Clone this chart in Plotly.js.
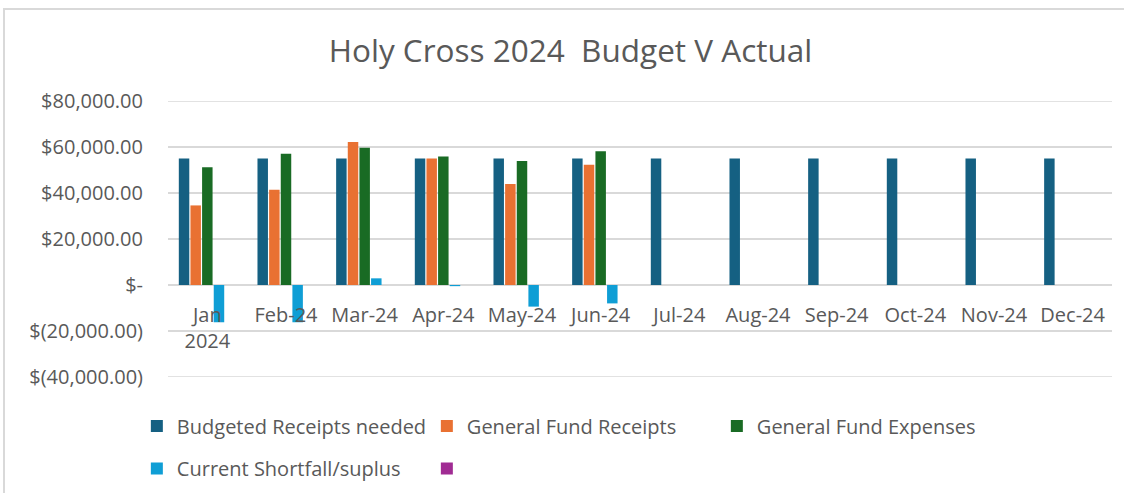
<!DOCTYPE html>
<html>
<head>
<meta charset="utf-8">
<script src="https://cdn.plot.ly/plotly-3.0.1.min.js"></script>
<style>
  html, body { margin: 0; padding: 0; background: #ffffff; }
  #wrap { position: relative; width: 1124px; height: 493px; overflow: hidden; }
  #frame { position: absolute; left: 3px; top: 8px; width: 1200px; height: 600px;
           border-top: 2px solid #d9d9d9; border-left: 2px solid #d9d9d9; pointer-events: none; z-index: 5; }
  #chart { width: 1124px; height: 493px; }
</style>
</head>
<body>
<div id="wrap">
  <div id="chart"></div>
  <div id="frame"></div>
</div>
<script>
const months = ["Jan 2024", "Feb-24", "Mar-24", "Apr-24", "May-24", "Jun-24", "Jul-24", "Aug-24", "Sep-24", "Oct-24", "Nov-24", "Dec-24"];
const monthLabels = ["Jan<br>2024", "Feb-24", "Mar-24", "Apr-24", "May-24", "Jun-24", "Jul-24", "Aug-24", "Sep-24", "Oct-24", "Nov-24", "Dec-24"];
const budgetedReceipts = [55000, 55000, 55000, 55000, 55000, 55000, 55000, 55000, 55000, 55000, 55000, 55000];
const generalFundReceipts = [34600, 41400, 62200, 55000, 43900, 52300, null, null, null, null, null, null];
const generalFundExpenses = [51200, 57100, 59700, 55900, 53900, 58100, null, null, null, null, null, null];
const shortfallSurplus = [-16200, -16200, 2900, -500, -9400, -8000, null, null, null, null, null, null];
const emptySeries = [null, null, null, null, null, null, null, null, null, null, null, null];
const seriesNames = ["Budgeted Receipts needed", "General Fund Receipts", "General Fund Expenses", "Current Shortfall/suplus", " "];
const yTickVals = [-40000, -20000, 0, 20000, 40000, 60000, 80000];
const yTickText = ["$(40,000.00)", "$(20,000.00)", "$-", "$20,000.00", "$40,000.00", "$60,000.00", "$80,000.00"];
const yMin = -40000;
const yMax = 80000;

const colors = ["#156082", "#E97132", "#196B24", "#0F9ED5", "#A02B93"];
const seriesData = [budgetedReceipts, generalFundReceipts, generalFundExpenses, shortfallSurplus, emptySeries];
const legendOf = ["legend", "legend", "legend", "legend2", "legend2"];

const traces = seriesData.map((vals, i) => ({
  type: "bar",
  x: months,
  y: vals,
  name: seriesNames[i],
  legend: legendOf[i],
  marker: { color: colors[i] },
  hoverinfo: "x+y+name"
}));

const legendCommon = {
  orientation: "h",
  x: -0.033, xanchor: "left",
  yanchor: "top",
  entrywidth: 245,
  entrywidthmode: "pixels",
  font: { family: "Open Sans, sans-serif", size: 20, color: "#595959" },
  itemwidth: 30,
  bgcolor: "rgba(0,0,0,0)"
};

// Edge gridlines (Plotly hides gridlines exactly at the range ends)
const edgeGrid = [yMin, yMax].map(v => ({
  type: "line", xref: "paper", x0: 0, x1: 1, yref: "y", y0: v, y1: v,
  line: { color: "#d9d9d9", width: 1.5 }, layer: "below"
}));

const layout = {
  width: 1124,
  height: 493,
  paper_bgcolor: "#ffffff",
  plot_bgcolor: "#ffffff",
  font: { family: "Open Sans, sans-serif", color: "#595959", size: 20 },
  margin: { l: 168, r: 12, t: 101, b: 116, autoexpand: false },
  title: {
    text: "Holy Cross 2024  Budget V Actual",
    font: { family: "Open Sans, sans-serif", size: 31.5, color: "#595959" },
    xref: "container", x: 570.5 / 1124, xanchor: "center",
    yref: "container", y: 1 - 50.5 / 493, yanchor: "middle"
  },
  barmode: "group",
  bargap: 0.26,
  bargroupgap: 0.1,
  showlegend: true,
  legend: Object.assign({}, legendCommon, { y: -0.1073 }),
  legend2: Object.assign({}, legendCommon, { y: -0.261 }),
  shapes: edgeGrid,
  xaxis: {
    type: "category",
    categoryorder: "array",
    categoryarray: months,
    tickvals: months,
    ticktext: monthLabels,
    anchor: "free",
    position: 1 / 3,
    showline: false,
    showgrid: false,
    zeroline: false,
    ticks: "",
    ticklabelstandoff: 16,
    tickfont: { size: 20, color: "#595959" },
    fixedrange: true
  },
  yaxis: {
    range: [yMin, yMax],
    tickvals: yTickVals,
    ticktext: yTickText,
    showgrid: true,
    gridcolor: "#d9d9d9",
    gridwidth: 1.5,
    zeroline: true,
    zerolinecolor: "#d9d9d9",
    zerolinewidth: 1.5,
    showline: false,
    ticks: "",
    ticklabelstandoff: 24,
    tickfont: { size: 20, color: "#595959" },
    fixedrange: true
  }
};

Plotly.newPlot("chart", traces, layout, { displayModeBar: false, staticPlot: true });
</script>
</body>
</html>
